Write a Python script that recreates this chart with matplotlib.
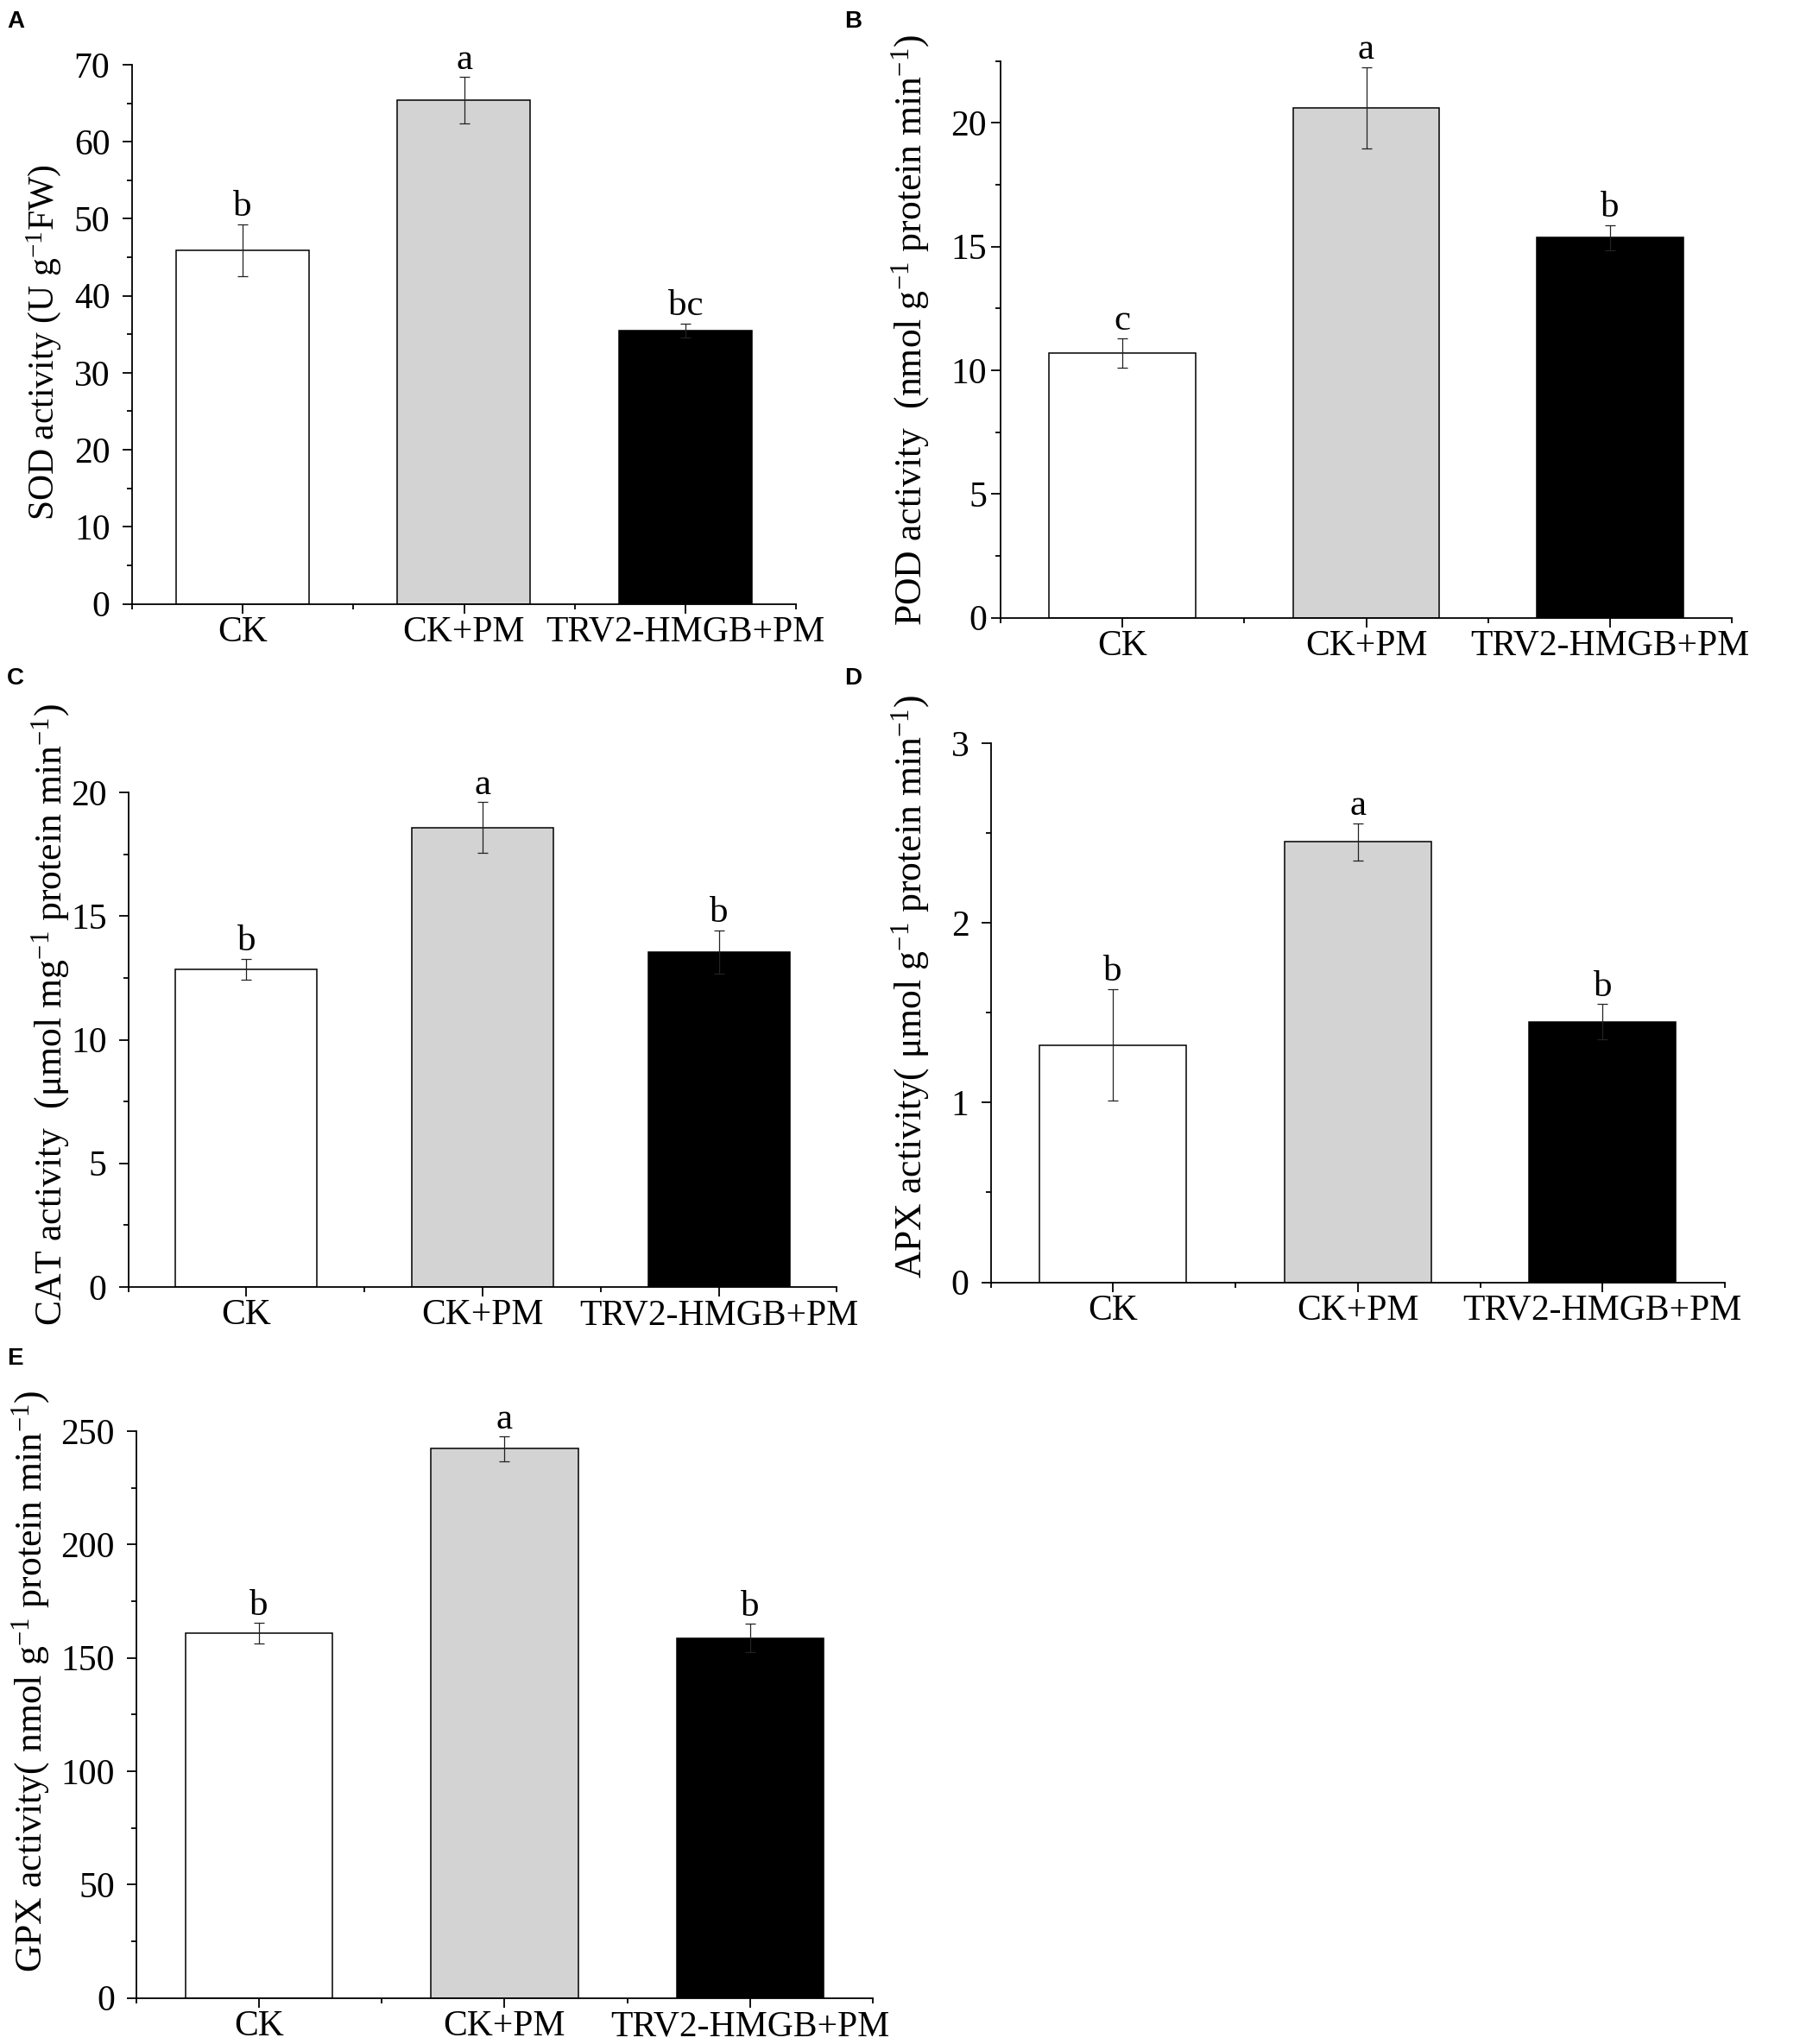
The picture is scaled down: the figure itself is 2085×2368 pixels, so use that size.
import matplotlib
matplotlib.use("Agg")
import matplotlib.pyplot as plt
from matplotlib.ticker import MultipleLocator

plt.rcParams['font.family'] = ['Liberation Serif', 'DejaVu Serif']
plt.rcParams['mathtext.fontset'] = 'custom'
plt.rcParams['mathtext.rm'] = 'Liberation Serif'
plt.rcParams['mathtext.it'] = 'Liberation Serif:italic'

groups = ['CK', 'CK+PM', 'TRV2-HMGB+PM']
colors = ['white', '#d3d3d3', 'black']

# panel data: means, errors, significance letters
sod = [45.9, 65.4, 35.5]
sod_err = [3.4, 3.0, 0.9]
sod_sig = ['b', 'a', 'bc']

pod = [10.7, 20.6, 15.35]
pod_err = [0.6, 1.65, 0.52]
pod_sig = ['c', 'a', 'b']

cat = [12.84, 18.58, 13.55]
cat_err = [0.43, 1.02, 0.88]
cat_sig = ['b', 'a', 'b']

apx = [1.32, 2.45, 1.45]
apx_err = [0.31, 0.105, 0.098]
apx_sig = ['b', 'a', 'b']

gpx = [160.9, 242.2, 158.8]
gpx_err = [4.5, 5.4, 6.2]
gpx_sig = ['b', 'a', 'b']

W, H = 2085, 2368
fig = plt.figure(figsize=(W / 100, H / 100), dpi=100)


def px_axes(left, right, top, bottom):
    return fig.add_axes([left / W, (H - bottom) / H, (right - left) / W, (bottom - top) / H])


def panel(ax, vals, errs, sig, ymax, major, minor, ylabel, ypad, label_x, label_y, label_size):
    x = range(len(groups))
    ax.bar(x, vals, width=0.6, color=colors, edgecolor='black', linewidth=1.1, zorder=2)
    ax.errorbar(x, vals, yerr=errs, fmt='none', ecolor='#222222', elinewidth=0.9,
                capsize=4, capthick=0.9, zorder=3)
    for i, (v, e, s) in enumerate(zip(vals, errs, sig)):
        ax.annotate(s, (i, v + e), xytext=(0, 7), textcoords='offset points',
                    ha='center', va='baseline', fontsize=31)
    ax.set_xlim(-0.5, 2.5)
    ax.set_ylim(0, ymax)
    ax.set_xticks(list(x))
    ax.set_xticklabels(groups, fontsize=31)
    ax.xaxis.set_minor_locator(MultipleLocator(1, offset=0.5))
    ax.yaxis.set_major_locator(MultipleLocator(major))
    ax.yaxis.set_minor_locator(MultipleLocator(minor))
    ax.spines['top'].set_visible(False)
    ax.spines['right'].set_visible(False)
    for s in ['left', 'bottom']:
        ax.spines[s].set_linewidth(1.3)
    ax.tick_params(which='major', direction='out', length=8, width=1.3, labelsize=30)
    ax.tick_params(which='minor', direction='out', length=4, width=1.3)
    ax.tick_params(axis='y', which='major', pad=ypad)
    ax.tick_params(axis='x', which='major', pad=2)
    ax.set_ylabel(ylabel, fontsize=label_size, va='center')
    ax.yaxis.set_label_coords(label_x, label_y)


axA = px_axes(152.5, 922.5, 75, 699.5)
panel(axA, sod, sod_err, sod_sig, 70, 10, 5, 'SOD activity (U g$^{-1}$FW)',
      10, -0.133, 0.485, 30)

axB = px_axes(1159, 2006, 70.5, 715.5)
panel(axB, pod, pod_err, pod_sig, 22.5, 5, 2.5,
      'POD activity  (nmol g$^{-1}$ protein min$^{-1}$)', 3.5, -0.123, 0.516, 31.5)

axC = px_axes(148.5, 969.5, 918, 1491)
panel(axC, cat, cat_err, cat_sig, 20, 5, 2.5,
      'CAT activity  (μmol mg$^{-1}$ protein min$^{-1}$)', 10, -0.11, 0.55, 31.5)

axD = px_axes(1147.5, 1998, 861, 1485.5)
panel(axD, apx, apx_err, apx_sig, 3, 1, 0.5,
      'APX activity( μmol g$^{-1}$ protein min$^{-1}$)', 10, -0.109, 0.548, 31.5)

axE = px_axes(158, 1011, 1658, 2314.7)
panel(axE, gpx, gpx_err, gpx_sig, 250, 50, 25,
      'GPX activity( nmol g$^{-1}$ protein min$^{-1}$)', 10, -0.143, 0.558, 31.5)

for lab, x0, y0 in [('A', 8, 12), ('B', 978, 12), ('C', 8, 773), ('D', 978, 773), ('E', 8, 1561)]:
    fig.text(x0 / W, 1 - y0 / H, lab, ha='left', va='top', fontsize=20,
             fontweight='bold', family='Liberation Sans')

fig.savefig('out.png', dpi=100, facecolor='white')
